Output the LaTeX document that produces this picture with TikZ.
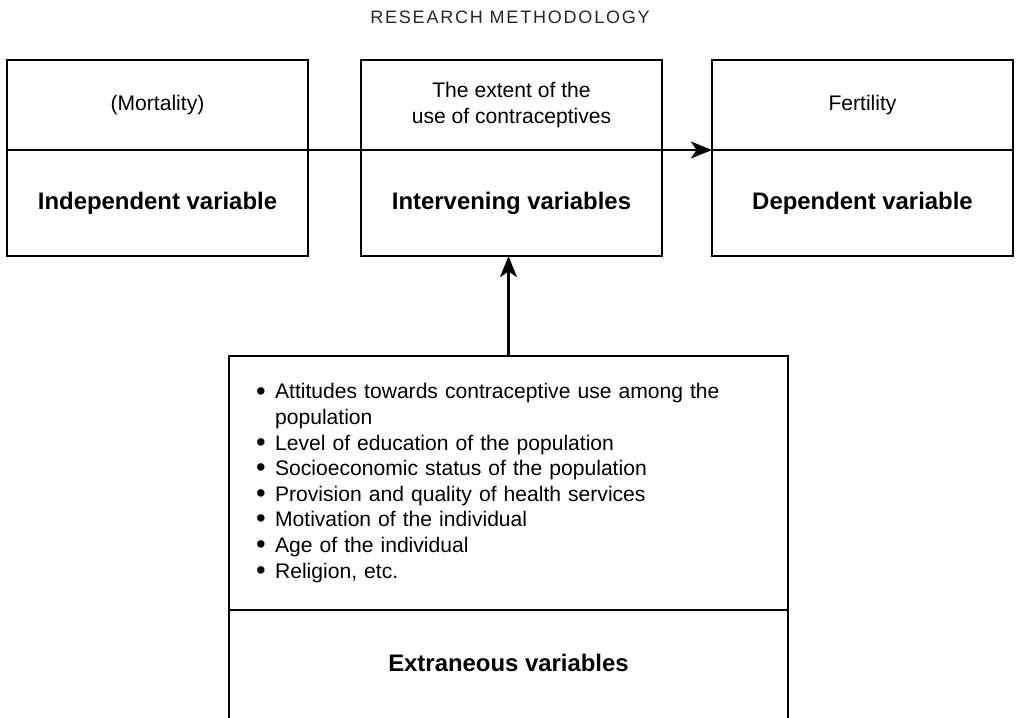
\documentclass[tikz,border=0pt]{standalone}
\usepackage{fontspec}
\setmainfont{Liberation Sans}
\newfontfamily\headfont[LetterSpace=10]{Liberation Sans}
\usetikzlibrary{arrows.meta,positioning}
\newlength{\pxu}
\setlength{\pxu}{0.025cm}
\newcommand{\bul}{\raisebox{-0.1ex}{\scalebox{1.3}{\textbullet}}\hspace{0.45em}}
\tikzset{
    topbox/.style={draw, line width=1pt, outer sep=0pt, inner sep=0pt,
        minimum width=301\pxu, minimum height=90\pxu, align=center,
        font=\fontsize{15}{18}\selectfont},
    lowbox/.style={draw, line width=1pt, outer sep=0pt, inner sep=0pt,
        minimum width=301\pxu, minimum height=106\pxu, align=center,
        font=\fontsize{17}{20}\selectfont\bfseries},
    listbox/.style={draw, line width=1pt, outer sep=0pt, inner xsep=27\pxu,
        text width=505\pxu, minimum height=254\pxu, align=left,
        font=\fontsize{15}{18.2}\selectfont},
    link/.style={line width=2pt},
    flow/.style={line width=2pt, -{Stealth[length=15pt,width=12pt,inset=4pt]}}
}

\begin{document}
\begin{tikzpicture}[x=0.025cm, y=-0.025cm]
    \useasboundingbox (0,0) rectangle (1018,717);
    \clip (0,0) rectangle (1018,717);
    \node[font=\headfont\fontsize{12.8}{15}\selectfont, text=black!85] (head) at (510,17) {RESEARCH METHODOLOGY};
    % the three variables
    \node[topbox] (mortal) at (157.5,105) {(Mortality)};
    \node[lowbox, below=0pt of mortal] (indep) {Independent variable};
    \node[topbox] (extent) at (511.5,105) {The extent of the\\use of contraceptives};
    \node[lowbox, below=0pt of extent] (interv) {Intervening variables};
    \node[topbox] (fert) at (862.5,105) {Fertility};
    \node[lowbox, below=0pt of fert] (dep) {Dependent variable};
    % extraneous variables
    \node[listbox] (extlist) at (508.5,483) {%
        \bul Attitudes towards contraceptive use among the\\
        \hphantom{\bul}population\\
        \bul Level of education of the population\\
        \bul Socioeconomic status of the population\\
        \bul Provision and quality of health services\\
        \bul Motivation of the individual\\
        \bul Age of the individual\\
        \bul Religion, etc.};
    \node[draw, line width=1pt, outer sep=0pt, minimum width=559\pxu, minimum height=160\pxu,
        below=0pt of extlist] (extra) {};
    \node[font=\fontsize{17}{20}\selectfont\bfseries] (extralbl) at ([yshift=-53\pxu]extra.north) {Extraneous variables};
    % connectors
    \draw[link] (mortal.south east) -- (extent.south west);
    \draw[flow] (extent.south east) -- (fert.south west);
    \draw[flow] (extlist.north) -- (extlist.north |- interv.south);
\end{tikzpicture}
\end{document}
